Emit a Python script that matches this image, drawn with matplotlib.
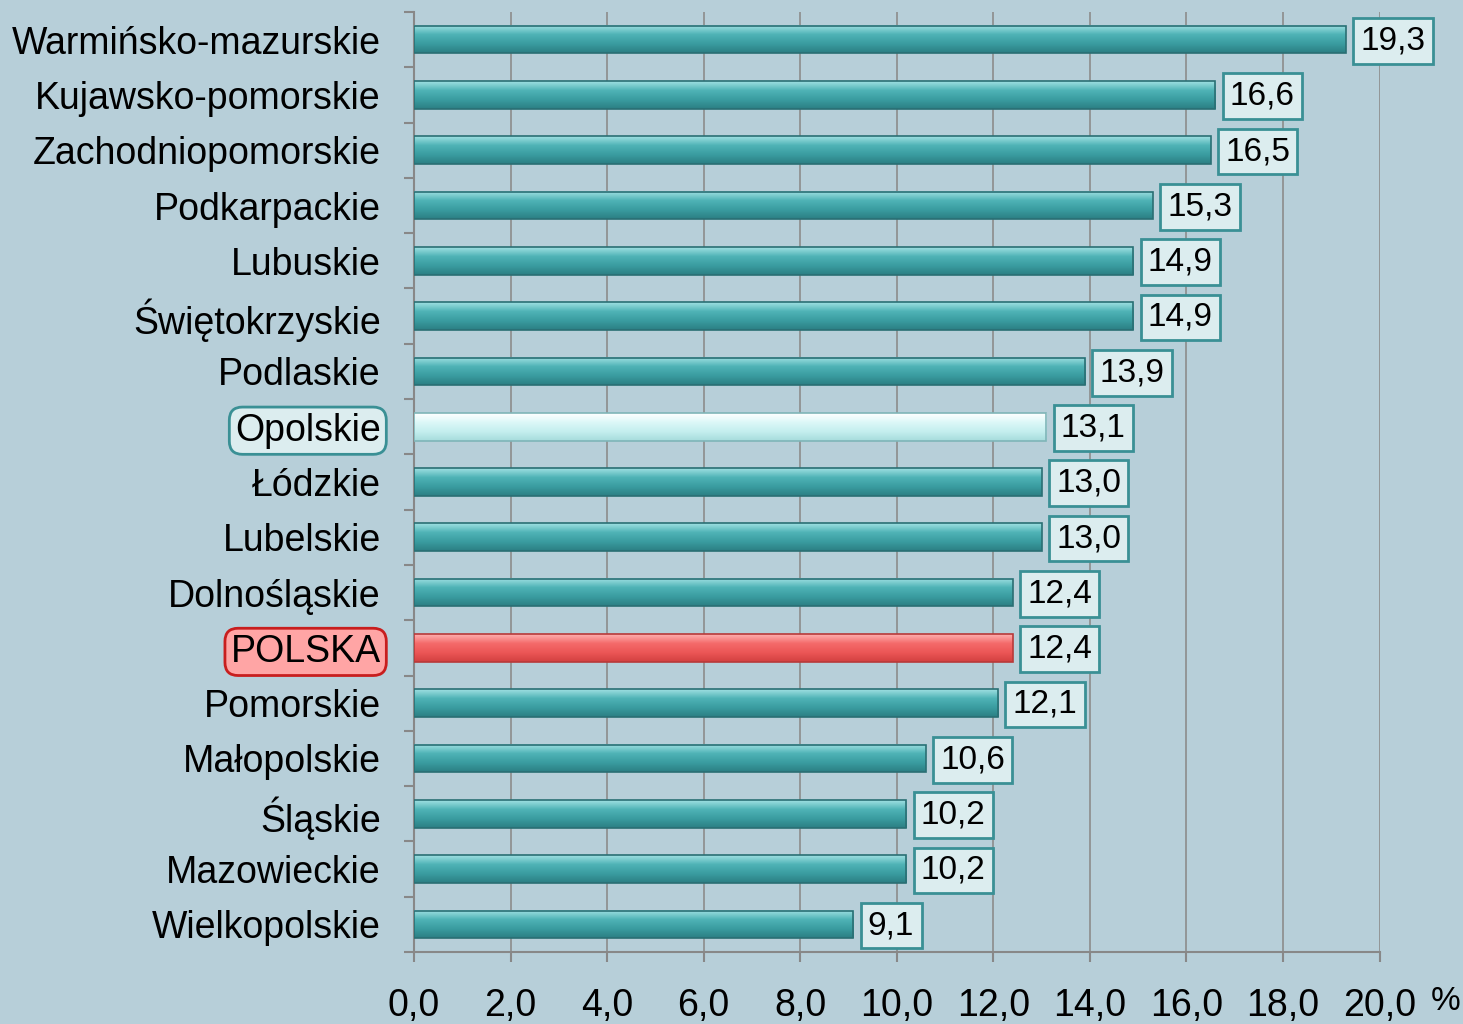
import numpy as np
import matplotlib.pyplot as plt
from matplotlib.ticker import FixedLocator
from matplotlib.colors import LinearSegmentedColormap

plt.rcParams['font.family'] = ['Liberation Sans', 'DejaVu Sans']

# dane: województwa i wartości (%)
regiony = ['Warmińsko-mazurskie', 'Kujawsko-pomorskie', 'Zachodniopomorskie',
           'Podkarpackie', 'Lubuskie', 'Świętokrzyskie', 'Podlaskie', 'Opolskie',
           'Łódzkie', 'Lubelskie', 'Dolnośląskie', 'POLSKA', 'Pomorskie',
           'Małopolskie', 'Śląskie', 'Mazowieckie', 'Wielkopolskie']
wartosci = [19.3, 16.6, 16.5, 15.3, 14.9, 14.9, 13.9, 13.1, 13.0, 13.0,
            12.4, 12.4, 12.1, 10.6, 10.2, 10.2, 9.1]
x_ticks = [0, 2, 4, 6, 8, 10, 12, 14, 16, 18, 20]

tlo = '#b7cfd9'

# gradienty słupków (góra -> dół)
cm_zwykly = LinearSegmentedColormap.from_list('z', ['#9fe0e2', '#4fb3b6', '#3a9ca0', '#2c7f84'])
cm_opolskie = LinearSegmentedColormap.from_list('o', ['#ffffff', '#dcf8f8', '#c4eeee', '#a6dcdc'])
cm_polska = LinearSegmentedColormap.from_list('p', ['#ffb0b0', '#f46a6a', '#ec5656', '#d24040'])

fig = plt.figure(figsize=(14.63, 10.24), dpi=100, facecolor=tlo)
ax = fig.add_axes([0.283, 0.0703, 0.66, 0.918])
ax.set_facecolor(tlo)

y = np.arange(len(regiony))
h = 0.5
grad = np.linspace(0, 1, 64).reshape(-1, 1)

for yi, v, r in zip(y, wartosci, regiony):
    if r == 'Opolskie':
        cm, ec = cm_opolskie, '#7fb5b8'
    elif r == 'POLSKA':
        cm, ec = cm_polska, '#b83a3a'
    else:
        cm, ec = cm_zwykly, '#2a6f74'
    ax.imshow(grad, cmap=cm, aspect='auto', extent=[0, v, yi + h / 2, yi - h / 2],
              origin='upper', zorder=3)
    ax.barh(yi, v, height=h, color='none', edgecolor=ec, linewidth=1.2, zorder=4)
    # etykieta wartości w ramce
    ax.text(v + 0.3, yi - 0.04, f'{v:.1f}'.replace('.', ','), va='center_baseline',
            ha='left', fontsize=24, zorder=5,
            bbox=dict(boxstyle='square,pad=0.22', facecolor='#dcedef',
                      edgecolor='#3a9095', linewidth=2))

ax.set_xlim(0, 20)
ax.set_ylim(len(regiony) - 0.5, -0.5)

ax.xaxis.set_major_locator(FixedLocator(x_ticks))
ax.set_xticklabels([f'{t:.1f}'.replace('.', ',') for t in x_ticks], fontsize=27)
ax.tick_params(axis='x', length=7, width=1.5, color='#888888', pad=19)

ax.set_yticks(y)
ax.set_yticklabels(regiony, fontsize=27)
ax.tick_params(axis='y', which='major', length=0, pad=24)
ax.yaxis.set_minor_locator(FixedLocator(np.arange(-0.5, len(regiony), 1)))
ax.tick_params(axis='y', which='minor', length=7, width=1.5, color='#888888')

ax.grid(axis='x', color='#8c8c8c', linewidth=1.2, zorder=0)
ax.set_axisbelow(True)
for s in ['top', 'right']:
    ax.spines[s].set_visible(False)
for s in ['left', 'bottom']:
    ax.spines[s].set_color('#888888')
    ax.spines[s].set_linewidth(1.5)

# wyróżnienie etykiet Opolskie i POLSKA
for lab in ax.get_yticklabels():
    if lab.get_text() == 'Opolskie':
        lab.set_bbox(dict(boxstyle='round,pad=0.15,rounding_size=0.35',
                          facecolor='#dcedef', edgecolor='#3a9095', linewidth=2))
    elif lab.get_text() == 'POLSKA':
        lab.set_bbox(dict(boxstyle='round,pad=0.15,rounding_size=0.35',
                          facecolor='#ffa5a5', edgecolor='#c81e1e', linewidth=2))

fig.text(0.988, 0.022, '%', fontsize=24, ha='center', va='center')

fig.savefig('out.png', dpi=100, facecolor=tlo)
